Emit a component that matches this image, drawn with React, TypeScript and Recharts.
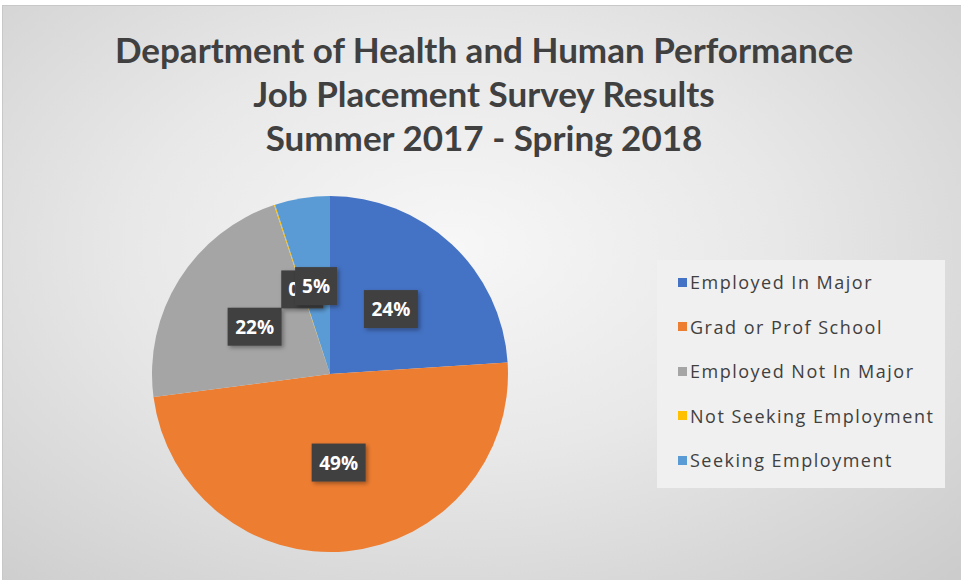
import { PieChart, Pie, Cell, Legend } from "recharts";

const categories = [
  "Employed In Major",
  "Grad or Prof School",
  "Employed Not In Major",
  "Not Seeking Employment",
  "Seeking Employment",
];
const shares = [24, 49, 22, 0.1, 5];
const colors = ["#4472C4", "#ED7D31", "#A5A5A5", "#FFC000", "#5B9BD5"];
const titleLines = [
  "Department of Health and Human Performance",
  "Job Placement Survey Results",
  "Summer 2017 - Spring 2018",
];

const data = categories.map((name, i) => ({ name, value: shares[i] }));

const RAD = Math.PI / 180;

function renderLabel(props: any) {
  const { cx, cy, midAngle, outerRadius, percent } = props;
  const r = outerRadius * 0.5;
  const x = cx + r * Math.cos(-midAngle * RAD);
  const y = cy + r * Math.sin(-midAngle * RAD);
  const text = `${Math.round(percent * 100)}%`;
  const w = text.length * 12 + 18;
  return (
    <g>
      <rect x={x - w / 2} y={y - 19} width={w} height={38} fill="#404040" filter="url(#lblShadow)" />
      <text
        x={x}
        y={y}
        fill="#ffffff"
        textAnchor="middle"
        dominantBaseline="central"
        fontSize={19}
        fontWeight="bold"
        fontFamily="'Open Sans', sans-serif"
      >
        {text}
      </text>
    </g>
  );
}

function LegendBox() {
  return (
    <div
      style={{
        width: 288,
        height: 228,
        background: "#f0f0f0",
        boxSizing: "border-box",
        paddingTop: 0,
        paddingLeft: 21,
      }}
    >
      {categories.map((c, i) => (
        <div key={c} style={{ height: 44.5, display: "flex", alignItems: "center" }}>
          <span style={{ width: 9, height: 9, background: colors[i], marginRight: 3, display: "inline-block" }} />
          <span
            style={{
              fontFamily: "'Open Sans', sans-serif",
              fontSize: 18,
              color: "#404040",
              letterSpacing: 1.5,
              whiteSpace: "nowrap",
            }}
          >
            {c}
          </span>
        </div>
      ))}
    </div>
  );
}

export default function App() {
  return (
    <div style={{ position: "absolute", left: 0, top: 0, width: 961, height: 580, background: "#fff" }}>
      <div
        style={{
          position: "absolute",
          left: 2,
          top: 5,
          width: 959,
          height: 575,
          borderTop: "1px solid #c8c8c8",
          borderLeft: "1px solid #c8c8c8",
          boxSizing: "border-box",
          background: "radial-gradient(ellipse 75% 80% at 47% 42%, #f7f7f7 0%, #e8e8e8 45%, #cccccc 100%)",
        }}
      />
      <div
        style={{
          position: "absolute",
          left: 0,
          top: 27,
          width: 968,
          textAlign: "center",
          fontFamily: "Lato, sans-serif",
          fontWeight: "bold",
          fontSize: 35,
          lineHeight: "44px",
          color: "#404040",
        }}
      >
        {titleLines.map((t) => (
          <div key={t}>{t}</div>
        ))}
      </div>
      <div style={{ position: "absolute", left: 0, top: 0 }}>
        <PieChart width={961} height={580} margin={{ top: 0, right: 0, bottom: 0, left: 0 }}>
          <defs>
            <filter id="lblShadow" x="-30%" y="-30%" width="160%" height="160%">
              <feDropShadow dx="2" dy="2" stdDeviation="2" floodColor="#000" floodOpacity="0.35" />
            </filter>
          </defs>
          <Pie
            data={data}
            dataKey="value"
            nameKey="name"
            cx={330}
            cy={374}
            outerRadius={178}
            startAngle={90}
            endAngle={-270}
            stroke="none"
            label={renderLabel}
            labelLine={false}
            isAnimationActive={false}
          >
            {data.map((d, i) => (
              <Cell key={d.name} fill={colors[i]} />
            ))}
          </Pie>
          <Legend
            content={<LegendBox />}
            layout="vertical"
            wrapperStyle={{ left: 657, top: 260, bottom: "auto", width: 288, height: 228 }}
          />
        </PieChart>
      </div>
    </div>
  );
}
